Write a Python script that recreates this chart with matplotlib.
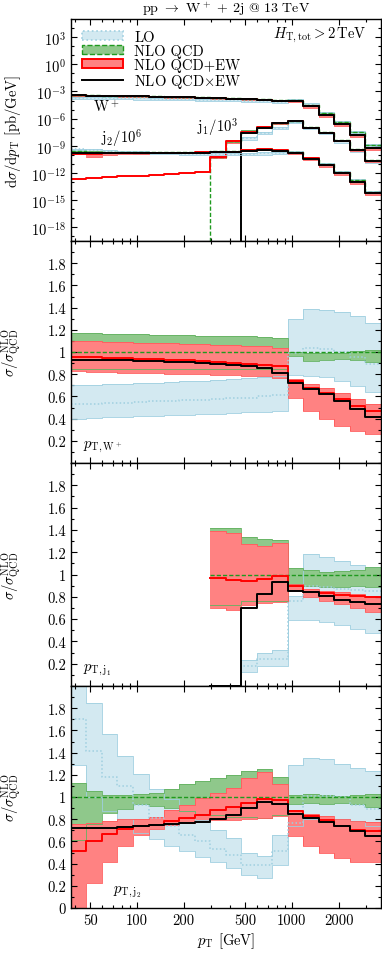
import numpy as np
import matplotlib
matplotlib.use("Agg")
import matplotlib.pyplot as plt
from matplotlib.patches import Patch
from matplotlib.lines import Line2D
from matplotlib.ticker import FixedLocator, FuncFormatter, MultipleLocator, NullFormatter

plt.rcParams['font.family'] = ['cmr10', 'DejaVu Serif']
plt.rcParams['mathtext.fontset'] = 'cm'
plt.rcParams['axes.formatter.use_mathtext'] = True
plt.rcParams['font.size'] = 10.5

nan = np.nan

# pT bin edges [GeV]
edges = np.array([37.6, 47.3, 59.6, 75.0, 94.4, 118.9, 149.6, 188.4, 237.1, 298.5, 375.8,
                  473.2, 595.7, 749.9, 944.1, 1188.5, 1496.2, 1883.6, 2371.4, 2985.4, 3758.4])

# NLO QCD dsigma/dpT, log10 [pb/GeV]  (j1 scaled by 1e-3, j2 by 1e-6)
w_nlo_log = [-3.41, -3.43, -3.45, -3.48, -3.51, -3.54, -3.57, -3.61, -3.65, -3.69,
             -3.74, -3.80, -3.87, -3.95, -3.91, -4.46, -5.38, -6.37, -7.47, -8.86]
j1_nlo_log = [nan, nan, nan, nan, nan, nan, nan, nan, nan, -10.24,
              -8.47, -7.42, -6.95, -6.45, -6.23, -6.95, -7.48, -8.38, -9.36, -10.55]
j2_nlo_log = [-9.62, -9.64, -9.66, -9.67, -9.68, -9.68, -9.68, -9.67, -9.64, -9.62,
              -9.60, -9.47, -9.39, -9.49, -9.71, -10.31, -11.02, -11.85, -12.80, -14.05]
# NLO QCD+EW for j1 below the NLO QCD threshold (log10)
j1_ew_low_log = [-12.62, -12.54, -12.46, -12.38, -12.30, -12.21, -12.12, -12.03, -11.93]

# ratios to NLO QCD: W+ pT
w_lo_c = [0.53, 0.535, 0.54, 0.545, 0.55, 0.555, 0.56, 0.565, 0.57, 0.58,
          0.585, 0.59, 0.60, 0.615, 0.99, 1.04, 1.03, 1.00, 0.957, 0.89]
w_lo_hi = [0.70, 0.705, 0.71, 0.715, 0.72, 0.725, 0.73, 0.735, 0.74, 0.75,
           0.755, 0.765, 0.775, 0.787, 1.30, 1.387, 1.38, 1.363, 1.32, 1.26]
w_lo_lo = [0.40, 0.405, 0.41, 0.415, 0.42, 0.425, 0.43, 0.435, 0.44, 0.445,
           0.45, 0.455, 0.46, 0.465, 0.79, 0.787, 0.772, 0.74, 0.697, 0.64]
w_qcd_hi = [1.17, 1.17, 1.165, 1.16, 1.16, 1.155, 1.15, 1.15, 1.145, 1.145,
            1.14, 1.14, 1.135, 1.13, 1.0, 0.99, 0.99, 0.99, 1.01, 1.02]
w_qcd_lo = [0.85, 0.85, 0.85, 0.85, 0.85, 0.85, 0.85, 0.85, 0.85, 0.85,
            0.85, 0.85, 0.85, 0.85, 0.96, 0.92, 0.93, 0.94, 0.93, 0.91]
w_ew_c = [0.958, 0.955, 0.95, 0.945, 0.94, 0.935, 0.93, 0.925, 0.92, 0.91,
          0.905, 0.895, 0.885, 0.875, 0.74, 0.673, 0.63, 0.577, 0.516, 0.47]
w_ew_hi = [1.10, 1.095, 1.09, 1.09, 1.085, 1.08, 1.08, 1.075, 1.07, 1.065,
           1.06, 1.055, 1.05, 1.04, 0.757, 0.71, 0.673, 0.63, 0.577, 0.53]
w_ew_lo = [0.825, 0.82, 0.82, 0.815, 0.81, 0.81, 0.805, 0.80, 0.80, 0.795,
           0.79, 0.785, 0.78, 0.77, 0.59, 0.47, 0.40, 0.336, 0.29, 0.26]
w_mult = [0.93, 0.929, 0.927, 0.925, 0.922, 0.918, 0.914, 0.91, 0.902, 0.895,
          0.885, 0.87, 0.853, 0.81, 0.72, 0.67, 0.62, 0.56, 0.49, 0.41]

# ratios to NLO QCD: leading jet pT
j1_lo_c = [nan, nan, nan, nan, nan, nan, nan, nan, nan, 0.0,
           0.0, 0.18, 0.24, 0.245, 0.765, 0.895, 0.89, 0.87, 0.86, 0.85]
j1_lo_hi = [nan, nan, nan, nan, nan, nan, nan, nan, nan, nan,
            nan, 0.23, 0.30, 0.32, 0.81, 1.18, 1.157, 1.12, 1.087, 1.066]
j1_lo_lo = [nan, nan, nan, nan, nan, nan, nan, nan, nan, nan,
            nan, 0.13, 0.18, 0.18, 0.593, 0.59, 0.575, 0.548, 0.515, 0.473]
j1_qcd_hi = [nan, nan, nan, nan, nan, nan, nan, nan, nan, 1.42,
             1.415, 1.337, 1.32, 1.307, 1.06, 1.036, 1.02, 1.027, 1.042, 1.066]
j1_qcd_lo = [nan, nan, nan, nan, nan, nan, nan, nan, nan, 0.726,
             0.726, 0.765, 0.765, 0.765, 0.916, 0.90, 0.886, 0.886, 0.90, 0.886]
j1_ew_c = [nan, nan, nan, nan, nan, nan, nan, nan, nan, 0.97,
           0.955, 0.946, 0.958, 0.985, 0.90, 0.846, 0.834, 0.816, 0.804, 0.795]
j1_ew_hi = [nan, nan, nan, nan, nan, nan, nan, nan, nan, 1.39,
            1.37, 1.27, 1.256, 1.286, 0.916, 0.87, 0.855, 0.84, 0.825, 0.81]
j1_ew_lo = [nan, nan, nan, nan, nan, nan, nan, nan, nan, 0.70,
            0.68, 0.73, 0.74, 0.75, 0.855, 0.795, 0.765, 0.735, 0.70, 0.666]
j1_mult = [nan, nan, nan, nan, nan, nan, nan, nan, nan, 0.0,
           0.0, 0.70, 0.825, 0.93, 0.85, 0.84, 0.804, 0.774, 0.756, 0.735]

# ratios to NLO QCD: second jet pT
j2_lo_c = [1.70, 1.41, 1.18, 1.10, 0.93, 0.81, 0.74, 0.66, 0.60, 0.53,
           0.48, 0.39, 0.39, 0.51, 0.77, 1.01, 1.01, 1.00, 0.93, 0.89]
j2_lo_hi = [2.10, 1.85, 1.565, 1.37, 1.205, 1.075, 0.98, 0.87, 0.79, 0.70,
            0.63, 0.50, 0.47, 0.66, 1.29, 1.355, 1.34, 1.30, 1.265, 1.235]
j2_lo_lo = [1.29, 1.00, 0.87, 0.80, 0.68, 0.62, 0.56, 0.51, 0.46, 0.41,
            0.36, 0.30, 0.27, 0.39, 0.74, 0.80, 0.79, 0.80, 0.78, 0.74]
j2_qcd_hi = [1.13, 1.054, 1.015, 1.015, 1.024, 1.04, 1.075, 1.114, 1.144, 1.174,
             1.20, 1.235, 1.256, 1.183, 1.015, 1.024, 1.015, 1.01, 1.015, 1.024]
j2_qcd_lo = [0.61, 0.76, 0.86, 0.89, 0.934, 0.92, 0.90, 0.874, 0.844, 0.84,
             0.82, 0.82, 0.813, 0.835, 0.934, 0.95, 0.94, 0.945, 0.934, 0.913]
j2_ew_c = [0.51, 0.60, 0.67, 0.71, 0.74, 0.75, 0.78, 0.81, 0.84, 0.88,
           0.91, 0.95, 0.98, 0.97, 0.87, 0.83, 0.79, 0.74, 0.70, 0.69]
j2_ew_hi = [0.753, 0.77, 0.78, 0.80, 0.80, 0.82, 0.88, 0.93, 0.99, 1.04,
            1.085, 1.175, 1.225, 1.12, 0.88, 0.85, 0.83, 0.80, 0.78, 0.775]
j2_ew_lo = [-0.1, 0.227, 0.41, 0.56, 0.66, 0.71, 0.75, 0.77, 0.78, 0.79,
            0.79, 0.80, 0.81, 0.83, 0.65, 0.56, 0.50, 0.45, 0.41, 0.41]
j2_mult = [0.72, 0.72, 0.72, 0.73, 0.735, 0.745, 0.755, 0.765, 0.775, 0.80,
           0.84, 0.90, 0.958, 0.934, 0.85, 0.81, 0.775, 0.74, 0.69, 0.65]

# colours
lo_fill, lo_line = '#d3e9f1', '#9fcfe0'
qcd_fill, qcd_line, qcd_edge = '#8fc88b', '#1f9a1f', '#63b260'
ew_fill, ew_line, ew_edge = '#ff8282', '#ff0000', '#ff5a5a'


def stairs(ax, v, **kw):
    v = np.asarray(v, dtype=float)
    ax.step(edges, np.append(v, v[-1]), where='post', **kw)


def band(ax, lo, hi, fc, ec):
    lo = np.asarray(lo, dtype=float)
    hi = np.asarray(hi, dtype=float)
    ax.fill_between(edges, np.append(lo, lo[-1]), np.append(hi, hi[-1]), step='post',
                    facecolor=fc, edgecolor='none', lw=0)
    stairs(ax, lo, color=ec, lw=0.6)
    stairs(ax, hi, color=ec, lw=0.6)


def draw_set(ax, lo, qcd, ew, mult):
    lo_c, lo_lo, lo_hi = lo
    q_c, q_lo, q_hi = qcd
    e_c, e_lo, e_hi = ew
    band(ax, lo_lo, lo_hi, lo_fill, lo_line)
    band(ax, q_lo, q_hi, qcd_fill, qcd_edge)
    band(ax, e_lo, e_hi, ew_fill, ew_edge)
    stairs(ax, lo_c, color=lo_line, lw=1.1, ls=(0, (1, 1.5)))
    stairs(ax, q_c, color=qcd_line, lw=1.0, ls=(0, (3, 1.5)))
    stairs(ax, e_c, color=ew_line, lw=1.4)
    stairs(ax, mult, color='black', lw=1.4)


fig = plt.figure(figsize=(3.82, 9.54), dpi=100)
left, width = 71 / 382, 310 / 382
panel_px = [(20, 242), (242, 464), (464, 687), (687, 909)]
axes = []
for top, bot in panel_px:
    ax = fig.add_axes([left, 1 - bot / 954, width, (bot - top) / 954])
    axes.append(ax)

# ---- top panel: absolute distributions ----
ax = axes[0]
ax.set_yscale('log')
groups = [
    (w_nlo_log, (w_lo_c, w_lo_lo, w_lo_hi), (w_qcd_lo, w_qcd_hi), (w_ew_c, w_ew_lo, w_ew_hi), w_mult),
    (j1_nlo_log, (j1_lo_c, j1_lo_lo, j1_lo_hi), (j1_qcd_lo, j1_qcd_hi), (j1_ew_c, j1_ew_lo, j1_ew_hi), j1_mult),
    (j2_nlo_log, (j2_lo_c, j2_lo_lo, j2_lo_hi), (j2_qcd_lo, j2_qcd_hi), (j2_ew_c, j2_ew_lo, j2_ew_hi), j2_mult),
]
for k, (nlo_log, lo, qcd, ew, mult) in enumerate(groups):
    nlo = 10.0 ** np.asarray(nlo_log)

    def scale(r):
        r = np.asarray(r, dtype=float)
        return np.where(r > 0, nlo * r, nan)

    lo_c = np.nan_to_num(nlo * np.asarray(lo[0], dtype=float))
    q_c = np.nan_to_num(nlo)
    m = np.nan_to_num(nlo * np.asarray(mult, dtype=float))
    e_c = nlo * np.asarray(ew[0], dtype=float)
    if k == 1:
        e_c[:len(j1_ew_low_log)] = 10.0 ** np.asarray(j1_ew_low_log)
    draw_set(ax, (lo_c, scale(lo[1]), scale(lo[2])),
             (q_c, scale(qcd[0]), scale(qcd[1])),
             (e_c, scale(ew[1]), scale(ew[2])), m)
ax.set_ylim(10 ** -19.5, 10 ** 5)
ax.yaxis.set_major_locator(FixedLocator([10.0 ** k for k in range(-18, 4, 3)]))
ax.yaxis.set_minor_locator(FixedLocator([10.0 ** k for k in range(-19, 5)]))
ax.yaxis.set_major_formatter(FuncFormatter(lambda v, p: r'$10^{%d}$' % round(np.log10(v))))
ax.yaxis.set_minor_formatter(NullFormatter())
ax.set_ylabel(r'd$\sigma$/d$p_{\rm T}$ [pb/GeV]')

ax.text(0.07, 0.61, r'W$^+$', transform=ax.transAxes, va='center', ha='left')
ax.text(0.097, 0.47, r'j$_2$/10$^6$', transform=ax.transAxes, va='center', ha='left')
ax.text(0.405, 0.52, r'j$_1$/10$^3$', transform=ax.transAxes, va='center', ha='left')
ax.text(0.955, 0.932, r'$H_{\rm T,tot} > 2\,{\rm TeV}$', transform=ax.transAxes,
        va='center', ha='right')
ax.set_title(r'pp $\rightarrow$ W$^+$ + 2j @ 13 TeV', fontsize=10, pad=5)

handles = [Patch(facecolor=lo_fill, edgecolor=lo_line, ls=':', lw=1.2),
           Patch(facecolor=qcd_fill, edgecolor=qcd_line, ls='--', lw=1.0),
           Patch(facecolor=ew_fill, edgecolor=ew_line, lw=1.4),
           Line2D([], [], color='black', lw=1.4)]
labels = ['LO', 'NLO QCD', 'NLO QCD+EW', r'NLO QCD$\times$EW']
ax.legend(handles, labels, loc='upper left', frameon=False, handlelength=2.8,
          handleheight=0.6, labelspacing=0.0, borderaxespad=0.35, handletextpad=0.8)

# ---- ratio panels ----
ratio_sets = [
    ((w_lo_c, w_lo_lo, w_lo_hi), (w_qcd_lo, w_qcd_hi), (w_ew_c, w_ew_lo, w_ew_hi), w_mult, r'$p_{\rm T,W^+}$', 0.04),
    ((j1_lo_c, j1_lo_lo, j1_lo_hi), (j1_qcd_lo, j1_qcd_hi), (j1_ew_c, j1_ew_lo, j1_ew_hi), j1_mult, r'$p_{\rm T,j_1}$', 0.04),
    ((j2_lo_c, j2_lo_lo, j2_lo_hi), (j2_qcd_lo, j2_qcd_hi), (j2_ew_c, j2_ew_lo, j2_ew_hi), j2_mult, r'$p_{\rm T,j_2}$', 0.135),
]
for ax, (lo, qcd, ew, mult, lab, xl) in zip(axes[1:], ratio_sets):
    ones = np.where(np.isnan(np.asarray(qcd[0], dtype=float)), nan, 1.0)
    draw_set(ax, lo, (ones, qcd[0], qcd[1]), ew, mult)
    ax.set_ylim(0, 2)
    ax.yaxis.set_minor_locator(MultipleLocator(0.1))
    ax.yaxis.set_major_formatter(FuncFormatter(lambda v, p: '%g' % round(v, 1)))
    ax.set_ylabel(r'$\sigma/\sigma^{\rm NLO}_{\rm QCD}$')
    ax.text(xl, 0.075, lab, transform=ax.transAxes, va='center', ha='left')

axes[1].yaxis.set_major_locator(FixedLocator(np.arange(0.2, 1.81, 0.2)))
axes[2].yaxis.set_major_locator(FixedLocator(np.arange(0.2, 1.81, 0.2)))
axes[3].yaxis.set_major_locator(FixedLocator(np.arange(0.0, 1.81, 0.2)))

for ax in axes:
    ax.set_xscale('log')
    ax.set_xlim(edges[0], edges[-1])
    ax.xaxis.set_major_locator(FixedLocator([50, 100, 200, 500, 1000, 2000]))
    ax.xaxis.set_minor_locator(FixedLocator([40, 60, 70, 80, 90, 300, 400, 600, 700, 800, 900, 3000]))
    ax.xaxis.set_minor_formatter(NullFormatter())
    ax.tick_params(which='both', direction='in', top=True, right=True, width=0.8)
    ax.tick_params(which='major', length=4.5)
    ax.tick_params(which='minor', length=2.5)
    for s in ax.spines.values():
        s.set_linewidth(1.0)
    ax.yaxis.set_label_coords(-0.155, 0.5)
    if ax is not axes[-1]:
        ax.xaxis.set_major_formatter(NullFormatter())
axes[-1].xaxis.set_major_formatter(FuncFormatter(lambda v, p: '%d' % v))
axes[-1].set_xlabel(r'$p_{\rm T}$ [GeV]', labelpad=3)

fig.savefig('out.png', dpi=100)
